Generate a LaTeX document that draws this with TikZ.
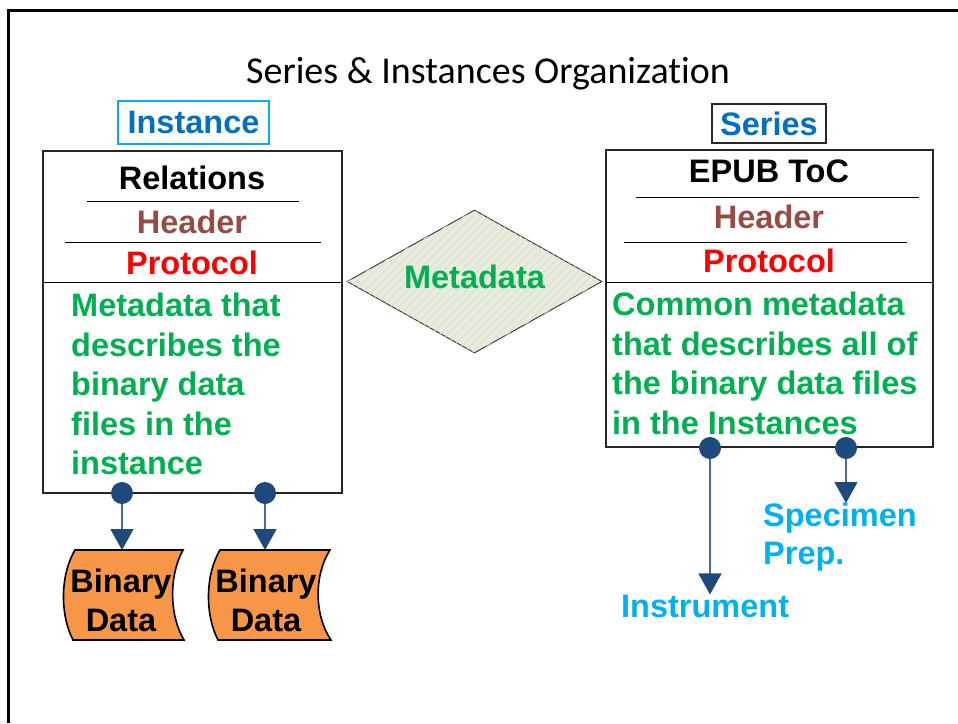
\documentclass[tikz,border=0pt]{standalone}
\usepackage{fontspec}
\setmainfont{Liberation Sans}
\newfontfamily\titlefont{Carlito}[Ligatures=NoCommon]
\usetikzlibrary{arrows.meta,shapes.geometric,patterns.meta}
\definecolor{metagreen}{HTML}{00B050}
\definecolor{headbrown}{HTML}{984B43}
\definecolor{labelblue}{HTML}{0070C0}
\definecolor{labelcyan}{HTML}{00B0F0}
\definecolor{dotblue}{HTML}{1F497D}
\definecolor{linkblue}{HTML}{4A6A9C}
\definecolor{binorange}{HTML}{F79646}
\definecolor{diamondfill}{HTML}{E8ECDA}
\begin{document}
\begin{tikzpicture}[x=1pt,y=-1pt,
    bigtext/.style={font=\fontsize{32.5}{39.5}\selectfont\bfseries},
    boxline/.style={draw=black!85,line width=2pt},
    sepline/.style={draw=black,line width=1pt},
    dot/.style={circle,fill=dotblue,inner sep=0pt,minimum size=22pt},
    link/.style={draw=linkblue,line width=1.6pt,
        -{Triangle[width=23pt,length=21pt,color=dotblue]}},
    datashape/.style={draw=black,line width=1.6pt,fill=binorange},
    datatext/.style={align=center,inner sep=0pt,
        font=\fontsize{32.5}{39}\selectfont\bfseries}]
    \useasboundingbox (0,0) rectangle (958,723);

    % slide frame
    \draw[line width=3pt] (8,723) -- (8,10) -- (958,10);

    \node[anchor=base,font=\titlefont\fontsize{38}{44}\selectfont]
        (title) at (488,83) {Series \& Instances Organization};

    % instance side
    \node[draw=labelcyan,line width=2pt,minimum width=151pt,
        minimum height=43pt,inner sep=0pt,bigtext,text=labelblue]
        (instance-label) at (193.5,122.5) {Instance};
    \draw[boxline] (43,151) rectangle (342,493);
    \node[anchor=base,bigtext] (inst-relations) at (192,189) {Relations};
    \draw[sepline] (87,201) -- (299,201);
    \node[anchor=base,bigtext,text=headbrown] (inst-header) at (192,233) {Header};
    \draw[sepline] (65,242) -- (321,242);
    \node[anchor=base,bigtext,text=red] (inst-protocol) at (192,274) {Protocol};
    \draw[sepline] (43,282) -- (342,282);
    \node[anchor=north west,align=left,inner sep=0pt,bigtext,text=metagreen]
        (inst-desc) at (71,293)
        {Metadata that\\describes the\\binary data\\files in the\\instance};

    \node[dot] (inst-dot-a) at (122,493) {};
    \node[dot] (inst-dot-b) at (265,493) {};

    \draw[datashape]
        (75,550) .. controls (60,575) and (60,615) .. (73,640)
        -- (184,640) .. controls (169,615) and (169,575) .. (183,550) -- cycle;
    \draw[datashape]
        (220,550) .. controls (205,575) and (205,615) .. (218,640)
        -- (331,640) .. controls (314,615) and (314,575) .. (330,550) -- cycle;
    \coordinate (binary-a-top) at (121,550);
    \coordinate (binary-b-top) at (266,550);
    \node[datatext] (binary-a) at (121,600) {Binary\\Data};
    \node[datatext] (binary-b) at (266,600) {Binary\\Data};
    \draw[link] (inst-dot-a) -- (inst-dot-a |- binary-a-top);
    \draw[link] (inst-dot-b) -- (inst-dot-b |- binary-b-top);

    % metadata relation
    \node[diamond,aspect=1.78,minimum width=255pt,minimum height=143pt,
        inner sep=0pt,draw=black!75,line width=1pt,fill=diamondfill,
        postaction={pattern={Lines[angle=45,distance=6pt,line width=1.2pt]},
            pattern color=white!70!diamondfill!90!black},
        bigtext,text=metagreen,text depth=10pt]
        (metadata) at (474.5,281.5) {Metadata};

    % series side
    \node[draw=black!85,line width=2pt,minimum width=114pt,
        minimum height=39pt,inner sep=0pt,bigtext,text=labelblue]
        (series-label) at (769,123.5) {Series};
    \draw[boxline] (606,150) rectangle (933,447);
    \node[anchor=base,bigtext] (ser-toc) at (769,182) {EPUB ToC};
    \draw[sepline] (636,197) -- (919,197);
    \node[anchor=base,bigtext,text=headbrown] (ser-header) at (769,228) {Header};
    \draw[sepline] (624,242) -- (907,242);
    \node[anchor=base,bigtext,text=red] (ser-protocol) at (769,272) {Protocol};
    \draw[sepline] (606,282) -- (933,282);
    \node[anchor=north west,align=left,inner sep=0pt,bigtext,text=metagreen]
        (ser-desc) at (612,292)
        {Common metadata\\that describes all of\\the binary data files\\in the Instances};

    \node[dot] (ser-dot-a) at (710,448) {};
    \node[dot] (ser-dot-b) at (846,448) {};
    \node[anchor=north west,align=left,inner sep=0pt,bigtext,text=labelcyan,
        font=\fontsize{32.5}{38}\selectfont\bfseries]
        (specimen) at (763,503) {Specimen\\Prep.};
    \node[anchor=base west,inner sep=0pt,bigtext,text=labelcyan]
        (instrument) at (621,617) {Instrument};
    \draw[link] (ser-dot-a) -- (ser-dot-a |- instrument.north);
    \draw[link] (ser-dot-b) -- (ser-dot-b |- specimen.north);
\end{tikzpicture}
\end{document}
